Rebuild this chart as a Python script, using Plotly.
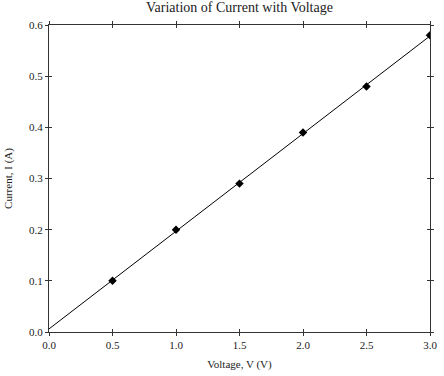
import numpy as np
import plotly.graph_objects as go

voltage = [0.5, 1.0, 1.5, 2.0, 2.5, 3.0]
current = [0.10, 0.20, 0.29, 0.39, 0.48, 0.58]
x_ticks = [0.0, 0.5, 1.0, 1.5, 2.0, 2.5, 3.0]
x_tick_labels = ["0.0", "0.5", "1.0", "1.5", "2.0", "2.5", "3.0"]
y_ticks = [0.0, 0.1, 0.2, 0.3, 0.4, 0.5, 0.6]
y_tick_labels = ["0.0", "0.1", "0.2", "0.3", "0.4", "0.5", "0.6"]

slope, intercept = np.polyfit(voltage, current, 1)
fit_x = [0.0, 3.0]
fit_y = [intercept + slope * v for v in fit_x]

FONT = "Liberation Serif"

fig = go.Figure()
fig.add_trace(go.Scatter(x=fit_x, y=fit_y, mode="lines",
                         line=dict(color="black", width=1), showlegend=False))
fig.add_trace(go.Scatter(x=voltage, y=current, mode="markers",
                         marker=dict(symbol="diamond", size=6.5, color="black"),
                         showlegend=False))
# invisible trace to activate overlay axes for crossing ticks
fig.add_trace(go.Scatter(x=[0], y=[0], xaxis="x2", yaxis="y2", mode="markers",
                         marker=dict(opacity=0), showlegend=False, hoverinfo="skip"))

common = dict(showgrid=False, zeroline=False, linecolor="#333", linewidth=1,
              tickcolor="#333", tickwidth=1, ticklen=3,
              tickfont=dict(family=FONT, size=11, color="#222"))

fig.update_layout(
    width=444, height=376,
    margin=dict(l=47, r=7, t=25, b=43),
    paper_bgcolor="white", plot_bgcolor="white",
    font=dict(family=FONT, size=11, color="#222"),
    title=dict(text="Variation of Current with Voltage", x=0.5, xref="paper",
               y=0.995, yref="container", yanchor="top",
               font=dict(family=FONT, size=14, color="#222")),
    xaxis=dict(range=[0, 3], tickvals=x_ticks, ticktext=x_tick_labels,
               ticks="outside", mirror="ticks", showline=True,
               title=dict(text="Voltage, V (V)", standoff=10,
                          font=dict(family=FONT, size=11)), **common),
    yaxis=dict(range=[0, 0.6], tickvals=y_ticks, ticktext=y_tick_labels,
               ticks="outside", mirror="ticks", showline=True,
               title=dict(text="Current, I (A)", standoff=14,
                          font=dict(family=FONT, size=11)), **common),
    xaxis2=dict(range=[0, 3], tickvals=x_ticks, overlaying="x",
                ticks="inside", mirror="ticks", showline=False,
                showticklabels=False, **common),
    yaxis2=dict(range=[0, 0.6], tickvals=y_ticks, overlaying="y",
                ticks="inside", mirror="ticks", showline=False,
                showticklabels=False, **common),
)

fig.write_html("out.html", config={"displayModeBar": False},
               post_script="document.body.style.margin='0';document.body.style.overflow='hidden';")
